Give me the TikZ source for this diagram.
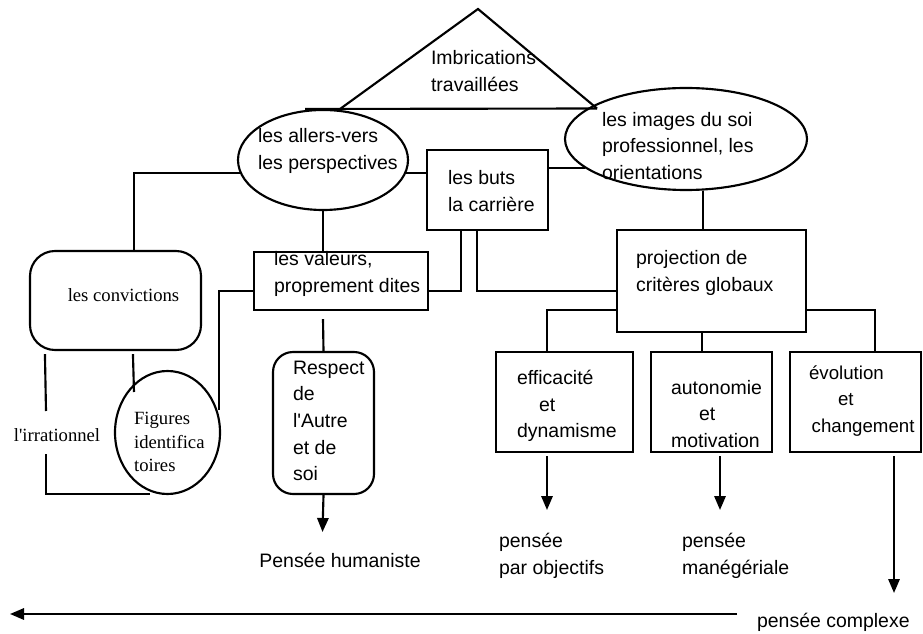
\documentclass[tikz,border=0pt]{standalone}
\usepackage{fontspec}
\setmainfont{Liberation Serif}
\newfontfamily\sansf{Liberation Sans}
\usetikzlibrary{shapes.geometric,arrows.meta,calc}
\begin{document}
\begin{tikzpicture}[x=0.75pt,y=-0.75pt,line width=1.6pt,
  box/.style={draw,rectangle,inner sep=0pt},
  rbox/.style={draw,rectangle,inner sep=0pt,rounded corners=#1},
  ell/.style={draw,ellipse,inner sep=0pt},
  txt/.style={font=\sansf\fontsize{14.6}{20}\selectfont,align=left,inner sep=0pt,anchor=west},
  stxt/.style={font=\fontsize{14}{17.5}\selectfont,align=left,inner sep=0pt},
  arr/.style={-{Triangle[length=10.5pt,width=8.5pt]}}]
\useasboundingbox (0,0) rectangle (923,634);

% triangle
\coordinate (tA) at (478,9);
\coordinate (tL) at (340,109);
\coordinate (tR) at (597,108.5);
\coordinate (tB) at (305,109);
\draw (tL) -- (tA) -- (tR);
\draw (tB) -- (tR);
\node[txt] (imbr) at (430,71) {Imbrications\\travaillées};

% shapes
\node[ell,minimum width=127.5pt,minimum height=75pt] (ell1) at (323,160) {};
\node[ell,minimum width=181.5pt,minimum height=76.5pt] (ell2) at (686,139) {};
\node[box,minimum width=90.75pt,minimum height=60pt] (buts) at (487.5,190) {};
\node[rbox=18.75pt,minimum width=128.25pt,minimum height=74.25pt] (conv) at (115.5,300.5) {};
\node[box,minimum width=130.5pt,minimum height=43.5pt] (val) at (341,281) {};
\node[ell,minimum width=78.75pt,minimum height=92.25pt] (fig) at (167.5,432.5) {};
\node[rbox=15pt,minimum width=75.75pt,minimum height=106.5pt] (resp) at (323.5,423) {};
\node[box,minimum width=141.75pt,minimum height=76.5pt] (proj) at (711.5,281) {};
\node[box,minimum width=102.75pt,minimum height=75pt] (eff) at (564.5,402) {};
\node[box,minimum width=90.75pt,minimum height=75pt] (auto) at (711.5,402) {};
\node[box,minimum width=98.25pt,minimum height=75pt] (evol) at (855.5,402) {};

% texts
\node[txt] (ell1t) at (257,151) {les allers-vers\\les perspectives};
\node[txt] (ell2t) at (601,146) {les images du soi\\professionnel, les\\orientations};
\node[txt] (butst) at (447,191) {les buts\\la carrière};
\node[stxt] (convt) at (123.5,295) {les convictions};
\node[txt] (valt) at (273,274) {les valeurs,\\proprement dites};
\node[stxt] (irr) at (57,435) {l\textquotesingle irrationnel};
\node[stxt,anchor=west] (figt) at (133,442) {Figures\\identifica\\toires};
\node[txt] (respt) at (292,421) {Respect\\de\\l\textquotesingle Autre\\et de\\soi};
\node[font=\sansf\fontsize{14.6}{20}\selectfont,inner sep=0pt] (hum) at (340,560) {Pensée humaniste};
\node[txt] (projt) at (635,273) {projection de\\critères globaux};
\node[txt] (efft) at (516,406) {efficacité\\\hspace*{16.5pt}et\\dynamisme};
\node[txt] (autot) at (670,414) {autonomie\\\hspace*{21pt}et\\motivation};
\node[txt,font=\sansf\fontsize{14}{20}\selectfont] (evolt) at (808,401) {évolution\\\hspace*{21.75pt}et\\\hspace*{2pt}changement};
\node[txt] (obj) at (498,556) {pensée\\par objectifs};
\node[txt] (man) at (681,556) {pensée\\manégériale};
\node[txt] (compl) at (756,622) {pensée complexe};

% connectors
\draw (ell1.189) -| ($(conv.north)+(18.5,0)$);
\draw (ell1.south) -- (ell1.south |- val.north);
\draw (ell1.351) -- (ell1.351 -| buts.west);
\draw (ell2.196) -- (ell2.196 -| buts.east);
\draw (ell2.288) -- (ell2.288 |- proj.north);
\draw ($(buts.south west)+(35,0)$) |- ($(val.east)+(0,10)$);
\draw ($(buts.south west)+(51,0)$) |- ($(proj.west)+(0,10)$);
\coordinate (c1) at (219,410);
\draw ($(val.west)+(0,10)$) -| (c1);
\coordinate (i1) at (46,411);
\coordinate (i2) at (46,454);
\coordinate (i3) at (150,494);
\coordinate (i4) at (134,392);
\draw ($(conv.south west)+(16,3)$) -- (i1);
\draw (i2) |- (i3);
\draw ($(conv.south west)+(104,3)$) -- (i4);
\draw ($(val.south)+(-18,8)$) -- (resp.north);
\coordinate (a1) at (322.5,532);
\draw[arr] (resp.south) -- (a1);
\draw ($(proj.west)+(0,29)$) -| ($(eff.north)+(-17.5,0)$);
\draw ($(proj.south)+(-9.5,0)$) -- ($(auto.north)+(-9.5,0)$);
\draw ($(proj.east)+(0,29)$) -| ($(evol.north)+(19.5,0)$);
\coordinate (a2) at (547,510);
\coordinate (a3) at (720,510);
\coordinate (a4) at (894,593);
\draw[arr] ($(eff.south)+(-17.5,3)$) -- (a2);
\draw[arr] ($(auto.south)+(8.5,3)$) -- (a3);
\draw[arr] ($(evol.south)+(38.5,3)$) -- (a4);
\coordinate (a5) at (10,614);
\draw[arr] ($(compl.west)+(-19,-8)$) -- (a5);
\end{tikzpicture}
\end{document}
